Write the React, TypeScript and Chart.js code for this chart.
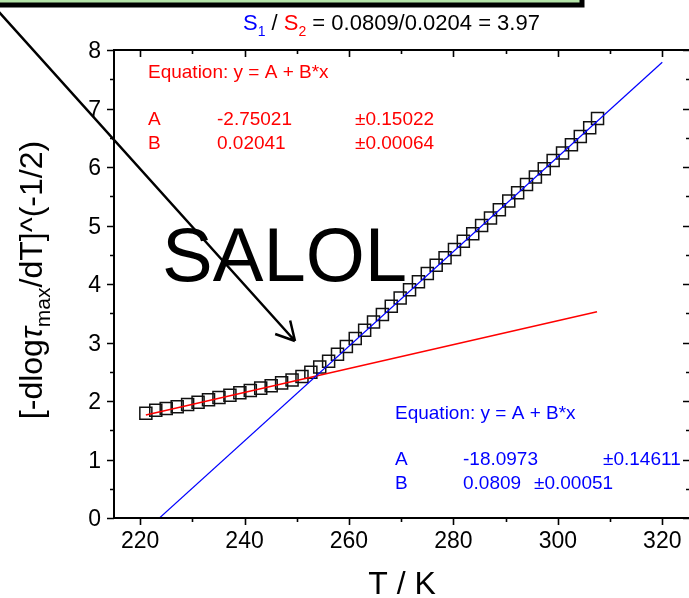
import { useEffect, useRef } from "react";
import { Chart, registerables } from "chart.js";

Chart.register(...registerables);

// Temperature (K) of each measured point
const TEMPERATURE = [
  221.1, 223.0, 225.0, 227.1, 229.1, 231.1, 233.1, 235.1, 237.2, 239.1,
  241.1, 243.1, 245.1, 247.1, 249.1, 251.0, 252.7, 254.4, 256.1, 257.8,
  259.5, 261.2, 263.0, 264.7, 266.4, 268.1, 269.8, 271.6, 273.3, 275.0,
  276.7, 278.4, 280.2, 281.9, 283.7, 285.4, 287.1, 288.8, 290.6, 292.3,
  294.0, 295.7, 297.4, 299.1, 300.9, 302.6, 304.3, 306.1, 307.6,
];

// [-dlog tau_max / dT]^(-1/2) at each temperature
const DERIVATIVE = [
  1.79, 1.84, 1.87, 1.9, 1.94, 1.98, 2.02, 2.06, 2.1, 2.14,
  2.18, 2.22, 2.26, 2.31, 2.36, 2.42, 2.49, 2.58, 2.68, 2.8,
  2.93, 3.07, 3.21, 3.35, 3.48, 3.62, 3.76, 3.9, 4.04, 4.18,
  4.32, 4.45, 4.59, 4.73, 4.86, 5.0, 5.13, 5.27, 5.42, 5.56,
  5.7, 5.83, 5.97, 6.11, 6.24, 6.38, 6.52, 6.67, 6.83,
];

// Linear fits y = A + B*x
const LOW_FIT_A = -2.75021;
const LOW_FIT_B = 0.02041;
const LOW_FIT_RANGE = [221.1, 307.5];
const HIGH_FIT_A = -18.0973;
const HIGH_FIT_B = 0.0809;
const HIGH_FIT_RANGE = [215, 320];

const X_MAJOR = [220, 240, 260, 280, 300, 320];
const X_MINOR = [230, 250, 270, 290, 310];
const Y_MAJOR = [0, 1, 2, 3, 4, 5, 6, 7, 8];
const Y_MINOR = [0.5, 1.5, 2.5, 3.5, 4.5, 5.5, 6.5, 7.5];

const FONT = "'Liberation Sans', Arial, sans-serif";
const RED = "#ff0000";
const BLUE = "#0000ff";

type Run = { text: string; color: string; size: number; dy?: number; italic?: boolean };

function setFont(ctx: CanvasRenderingContext2D, r: Run) {
  ctx.font = `${r.italic ? "italic " : ""}${r.size}px ${FONT}`;
}

function runsWidth(ctx: CanvasRenderingContext2D, runs: Run[]) {
  let w = 0;
  for (const r of runs) {
    setFont(ctx, r);
    w += ctx.measureText(r.text).width;
  }
  return w;
}

function drawRuns(ctx: CanvasRenderingContext2D, runs: Run[], x: number, y: number) {
  let cx = x;
  ctx.textAlign = "left";
  ctx.textBaseline = "alphabetic";
  for (const r of runs) {
    setFont(ctx, r);
    ctx.fillStyle = r.color;
    ctx.fillText(r.text, cx, y + (r.dy || 0));
    cx += ctx.measureText(r.text).width;
  }
}

function text(ctx: CanvasRenderingContext2D, s: string, x: number, y: number, size: number, color: string, align: CanvasTextAlign = "left") {
  ctx.font = `${size}px ${FONT}`;
  ctx.fillStyle = color;
  ctx.textAlign = align;
  ctx.textBaseline = "alphabetic";
  ctx.fillText(s, x, y);
}

const decorations = {
  id: "decorations",
  afterDraw(chart: any) {
    const { ctx, chartArea: a, scales } = chart;
    const xs = scales.x;
    const ys = scales.y;
    ctx.save();

    // plot frame
    ctx.strokeStyle = "#000";
    ctx.lineWidth = 2;
    ctx.strokeRect(a.left, a.top, a.right - a.left, a.bottom - a.top);

    // tick marks: outward on bottom/left, inward on top/right
    ctx.lineWidth = 1.6;
    ctx.beginPath();
    const xTick = (v: number, len: number) => {
      const px = Math.round(xs.getPixelForValue(v)) + 0.5;
      ctx.moveTo(px, a.bottom);
      ctx.lineTo(px, a.bottom + len);
      ctx.moveTo(px, a.top);
      ctx.lineTo(px, a.top + len);
    };
    const yTick = (v: number, len: number) => {
      const py = Math.round(ys.getPixelForValue(v)) + 0.5;
      ctx.moveTo(a.left, py);
      ctx.lineTo(a.left - len, py);
      ctx.moveTo(a.right, py);
      ctx.lineTo(a.right - len - 1, py);
    };
    X_MAJOR.forEach((v) => xTick(v, 7));
    X_MINOR.forEach((v) => xTick(v, 4));
    Y_MAJOR.forEach((v) => yTick(v, 7));
    Y_MINOR.forEach((v) => yTick(v, 4));
    ctx.stroke();

    // tick labels
    X_MAJOR.forEach((v) => text(ctx, String(v), xs.getPixelForValue(v), 548, 23, "#000", "center"));
    Y_MAJOR.forEach((v) => text(ctx, String(v), 101, ys.getPixelForValue(v) + 8.2, 23, "#000", "right"));

    // x axis title
    text(ctx, "T / K", (a.left + 690) / 2, 594, 32, "#000", "center");

    // y axis title, rotated
    const yTitle: Run[] = [
      { text: "[-dlog", color: "#000", size: 32 },
      { text: "\u03C4", color: "#000", size: 32, italic: true },
      { text: "max", color: "#000", size: 21, dy: 8 },
      { text: "/dT]^(-1/2)", color: "#000", size: 32 },
    ];
    const tw = runsWidth(ctx, yTitle);
    ctx.save();
    ctx.translate(42, 280);
    ctx.rotate(-Math.PI / 2);
    drawRuns(ctx, yTitle, -tw / 2, 0);
    ctx.restore();

    // ratio of slopes
    drawRuns(
      ctx,
      [
        { text: "S", color: BLUE, size: 22 },
        { text: "1", color: BLUE, size: 14, dy: 6 },
        { text: " / ", color: "#000", size: 22 },
        { text: "S", color: RED, size: 22 },
        { text: "2", color: RED, size: 14, dy: 6 },
        { text: " = 0.0809/0.0204 = 3.97", color: "#000", size: 22 },
      ],
      243,
      30
    );

    // fit results, low temperature branch
    text(ctx, "Equation: y = A + B*x", 148, 78, 19, RED);
    text(ctx, "A", 148, 125, 19, RED);
    text(ctx, String(LOW_FIT_A), 217, 125, 19, RED);
    text(ctx, "\u00B10.15022", 355, 125, 19, RED);
    text(ctx, "B", 148, 149, 19, RED);
    text(ctx, String(LOW_FIT_B), 217, 149, 19, RED);
    text(ctx, "\u00B10.00064", 355, 149, 19, RED);

    // fit results, high temperature branch
    text(ctx, "Equation: y = A + B*x", 395, 419, 19, BLUE);
    text(ctx, "A", 395, 465, 19, BLUE);
    text(ctx, String(HIGH_FIT_A), 463, 465, 19, BLUE);
    text(ctx, "\u00B10.14611", 603, 465, 19, BLUE);
    text(ctx, "B", 395, 489, 19, BLUE);
    text(ctx, String(HIGH_FIT_B), 463, 489, 19, BLUE);
    text(ctx, "\u00B10.00051", 534, 489, 19, BLUE);

    // sample name
    text(ctx, "SALOL", 162, 281, 76, "#000");

    // arrow pointing at the crossover
    const tipX = 295;
    const tipY = 341;
    ctx.strokeStyle = "#000";
    ctx.lineWidth = 2.5;
    ctx.beginPath();
    ctx.moveTo(-2, 11);
    ctx.lineTo(tipX, tipY);
    const ang = Math.atan2(tipY - 11, tipX + 2);
    const head = 21;
    for (const d of [-0.5, 0.5]) {
      ctx.moveTo(tipX, tipY);
      ctx.lineTo(tipX - head * Math.cos(ang + d), tipY - head * Math.sin(ang + d));
    }
    ctx.stroke();

    // legend frame reaching in from above
    ctx.fillStyle = "#b4e4a8";
    ctx.fillRect(0, 0, 582, 5);
    ctx.strokeStyle = "#000";
    ctx.lineWidth = 5;
    ctx.strokeRect(-10, -20, 592, 25);

    ctx.restore();
  },
};

export default function App() {
  const ref = useRef<HTMLCanvasElement | null>(null);

  useEffect(() => {
    if (!ref.current) return;
    const points = TEMPERATURE.map((t, i) => ({ x: t, y: DERIVATIVE[i] }));
    const lowFit = LOW_FIT_RANGE.map((t) => ({ x: t, y: LOW_FIT_A + LOW_FIT_B * t }));
    const highFit = HIGH_FIT_RANGE.map((t) => ({ x: t, y: HIGH_FIT_A + HIGH_FIT_B * t }));

    const chart = new Chart(ref.current, {
      type: "scatter",
      data: {
        datasets: [
          {
            label: "high-T fit",
            data: highFit,
            showLine: true,
            borderColor: BLUE,
            borderWidth: 1.2,
            pointRadius: 0,
            order: 0,
          },
          {
            label: "low-T fit",
            data: lowFit,
            showLine: true,
            borderColor: RED,
            borderWidth: 1.5,
            pointRadius: 0,
            order: 0,
          },
          {
            label: "SALOL",
            data: points,
            showLine: false,
            pointStyle: "rect",
            pointRadius: 8.5,
            pointBorderColor: "#111",
            pointBackgroundColor: "rgba(0,0,0,0)",
            pointBorderWidth: 1.5,
            order: 1,
          },
        ],
      },
      options: {
        animation: false,
        responsive: false,
        events: [],
        layout: { autoPadding: false, padding: { left: 114, right: 9, top: 50, bottom: 80 } },
        plugins: { legend: { display: false }, tooltip: { enabled: false }, title: { display: false } },
        scales: {
          x: { type: "linear", min: 215, max: 325.5, display: false },
          y: { type: "linear", min: 0, max: 8, display: false },
        },
      },
      plugins: [decorations],
    });
    return () => chart.destroy();
  }, []);

  return (
    <div style={{ position: "absolute", left: 0, top: 0, width: 689, height: 598, overflow: "hidden", background: "#fff" }}>
      <canvas ref={ref} width={700} height={598} style={{ width: 700, height: 598, display: "block" }} />
    </div>
  );
}
